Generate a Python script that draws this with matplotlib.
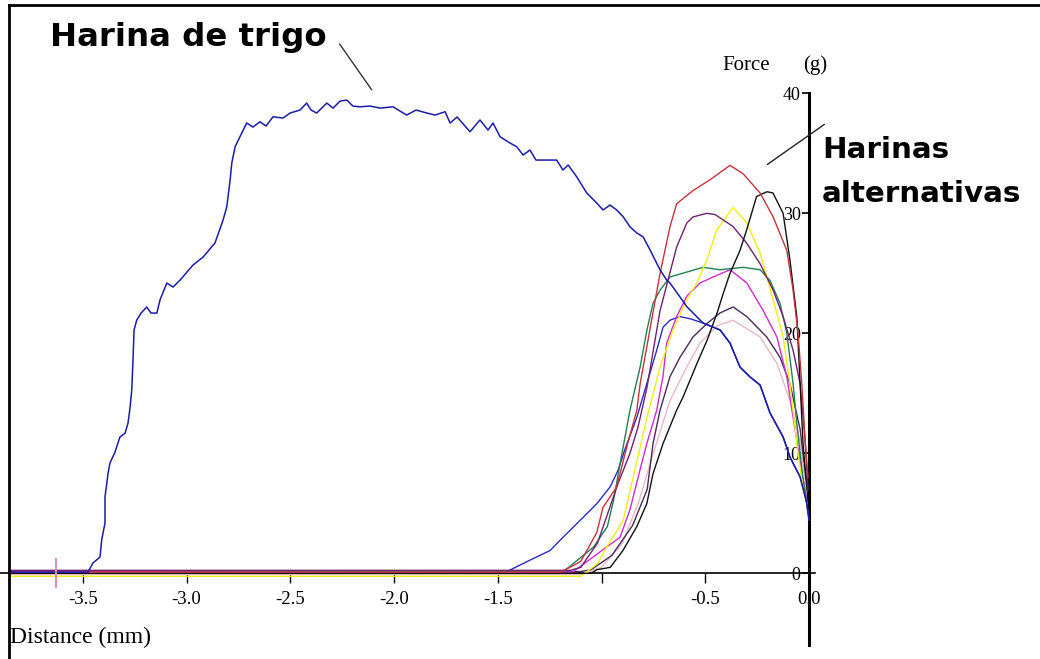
import matplotlib
matplotlib.use("Agg")
import matplotlib.pyplot as plt
from matplotlib.lines import Line2D

# penetration curves: distance (mm) vs force (g)
trigo_d = [-3.85, -3.475, -3.451, -3.417, -3.409, -3.393, -3.393, -3.378, -3.369, -3.345,
           -3.321, -3.296, -3.282, -3.272, -3.264, -3.258, -3.253, -3.240, -3.219, -3.192,
           -3.171, -3.143, -3.128, -3.095, -3.065, -3.031, -2.969, -2.920, -2.863, -2.824,
           -2.806, -2.790, -2.782, -2.766, -2.734, -2.710, -2.680, -2.646, -2.617, -2.583,
           -2.535, -2.501, -2.453, -2.421, -2.400, -2.373, -2.324, -2.294, -2.260, -2.228,
           -2.198, -2.164, -2.116, -2.067, -2.005, -1.971, -1.939, -1.894, -1.842, -1.802,
           -1.754, -1.730, -1.696, -1.634, -1.586, -1.547, -1.523, -1.489, -1.441, -1.409,
           -1.378, -1.345, -1.316, -1.282, -1.216, -1.186, -1.161, -1.120, -1.071, -1.023,
           -0.993, -0.959, -0.927, -0.896, -0.863, -0.830, -0.800, -0.766, -0.718, -0.686,
           -0.670, -0.622, -0.589, -0.511, -0.429, -0.381, -0.333, -0.284, -0.236, -0.188,
           -0.125, -0.092, -0.043, -0.011, 0.0]
trigo_f = [0.1, 0.1, 0.86, 1.36, 2.78, 4.19, 6.36, 8.36, 9.19, 10.1,
           11.36, 11.69, 12.53, 13.86, 15.28, 17.78, 20.28, 21.11, 21.69, 22.19,
           21.69, 21.69, 22.78, 24.19, 23.86, 24.44, 25.69, 26.36, 27.53, 29.44,
           30.55, 32.78, 34.19, 35.55, 36.69, 37.53, 37.19, 37.63, 37.28, 38.05,
           37.94, 38.36, 38.61, 39.19, 38.61, 38.36, 39.19, 38.77, 39.36, 39.44,
           38.94, 38.88, 38.94, 38.77, 38.88, 38.52, 38.19, 38.61, 38.36, 38.19,
           38.47, 37.53, 38.03, 36.8, 37.78, 36.94, 37.53, 36.38, 35.86, 35.55,
           34.86, 35.28, 34.44, 34.44, 34.44, 33.61, 34.03, 33.05, 31.69, 30.86,
           30.28, 30.69, 30.28, 29.72, 28.88, 28.36, 28.05, 26.94, 25.28, 24.44,
           24.19, 23.03, 22.22, 20.86, 20.28, 19.19, 17.19, 16.36, 15.69, 13.36,
           11.36, 9.69, 8.03, 5.86, 4.44]

rojo_d = [-3.85, -1.20, -1.152, -1.10, -1.023, -0.993, -0.927, -0.879, -0.830, -0.814,
          -0.718, -0.670, -0.638, -0.559, -0.477, -0.381, -0.318, -0.236, -0.173, -0.107,
          -0.077, -0.053, -0.035, -0.019, -0.005]
rojo_f = [0.1, 0.1, 0.5, 1.0, 3.4, 5.5, 7.2, 10.5, 13.6, 15.8,
          25.0, 28.9, 30.8, 31.9, 32.8, 34.0, 33.3, 31.7, 29.7, 26.9,
          23.6, 20.0, 15.8, 11.1, 8.0]

negro_d = [-3.85, -1.05, -1.023, -0.958, -0.897, -0.830, -0.782, -0.752, -0.704, -0.638,
           -0.607, -0.540, -0.492, -0.443, -0.414, -0.381, -0.333, -0.301, -0.253, -0.203,
           -0.174, -0.125, -0.092, -0.059, -0.043, -0.029, -0.005]
negro_f = [0.0, 0.0, 0.3, 0.5, 1.9, 3.9, 5.8, 8.3, 10.8, 13.6,
           14.7, 17.5, 19.4, 21.7, 23.3, 25.0, 26.9, 28.6, 31.4, 31.8,
           31.7, 30.0, 26.1, 21.4, 15.8, 10.8, 6.0]

morado_d = [-3.85, -1.15, -1.10, -1.02, -0.96, -0.92, -0.863, -0.824, -0.781, -0.718,
            -0.638, -0.589, -0.559, -0.493, -0.453, -0.366, -0.300, -0.236, -0.173, -0.125,
            -0.077, -0.043, -0.019, -0.005]
morado_f = [0.25, 0.25, 0.5, 2.5, 5.5, 7.5, 10.0, 12.2, 15.5, 21.9,
            27.2, 29.2, 29.7, 30.0, 29.9, 28.9, 27.5, 25.8, 23.6, 21.4,
            18.6, 15.8, 11.1, 7.0]

amarillo_d = [-3.85, -1.10, -1.02, -0.975, -0.896, -0.814, -0.781, -0.718, -0.655, -0.589,
              -0.541, -0.493, -0.445, -0.366, -0.300, -0.236, -0.173, -0.125, -0.092, -0.059,
              -0.029]
amarillo_f = [-0.25, -0.25, 0.8, 2.2, 4.4, 10.5, 13.0, 17.2, 20.3, 22.8,
              24.2, 26.1, 28.6, 30.5, 29.2, 26.7, 22.8, 19.7, 15.8, 10.8,
              7.0]

verde_d = [-3.85, -1.18, -1.038, -0.972, -0.942, -0.908, -0.863, -0.814, -0.781, -0.752,
           -0.718, -0.670, -0.511, -0.429, -0.318, -0.236, -0.188, -0.140, -0.107, -0.077,
           -0.059, -0.030, -0.005]
verde_f = [0.0, 0.2, 2.2, 3.9, 6.1, 9.4, 13.6, 17.2, 20.3, 22.5,
           23.6, 24.7, 25.5, 25.3, 25.5, 25.3, 24.4, 22.5, 20.0, 15.8,
           12.5, 8.0, 5.0]

magenta_d = [-3.85, -1.14, -1.108, -0.975, -0.911, -0.863, -0.815, -0.782, -0.734, -0.704,
             -0.686, -0.638, -0.589, -0.525, -0.462, -0.381, -0.300, -0.221, -0.155, -0.107,
             -0.077, -0.040, -0.010]
magenta_f = [0.1, 0.1, 0.5, 2.2, 3.0, 5.3, 8.6, 10.8, 13.6, 16.4,
             19.2, 21.4, 23.1, 24.2, 24.7, 25.3, 24.2, 21.9, 19.7, 16.4,
             13.0, 9.0, 6.0]

oscuro_d = [-3.85, -1.10, -1.05, -0.95, -0.85, -0.78, -0.752, -0.718, -0.670, -0.622,
            -0.559, -0.493, -0.429, -0.366, -0.300, -0.204, -0.140, -0.092, -0.043, -0.014]
oscuro_f = [0.15, 0.15, 0.3, 1.5, 4.0, 7.0, 10.8, 13.6, 16.4, 18.0,
            19.7, 20.8, 21.7, 22.2, 21.4, 19.7, 18.0, 15.8, 12.0, 7.8]

rosa_d = [-3.85, -1.10, -1.0, -0.9, -0.82, -0.76, -0.670, -0.589, -0.525, -0.445,
          -0.366, -0.236, -0.155, -0.092, -0.043, -0.014]
rosa_f = [-0.1, -0.1, 0.5, 2.5, 6.0, 9.5, 14.4, 17.2, 19.2, 20.6,
          21.1, 19.7, 17.5, 14.4, 11.0, 7.0]

# this one meets the wheat curve near -0.5 mm and runs down along it
azul_d = [-3.85, -1.45, -1.345, -1.248, -1.186, -1.104, -1.023, -0.959, -0.920, -0.888,
          -0.830, -0.782, -0.734, -0.704, -0.670, -0.622, -0.57, -0.511, -0.429, -0.381,
          -0.333, -0.284, -0.236, -0.188, -0.125, -0.092, -0.043, -0.011, 0.0]
azul_f = [0.2, 0.2, 1.1, 1.9, 3.0, 4.4, 5.8, 7.2, 8.6, 10.3,
          13.0, 15.8, 18.6, 20.5, 21.1, 21.4, 21.2, 20.86, 20.28, 19.19,
          17.19, 16.36, 15.69, 13.36, 11.36, 9.69, 8.03, 5.86, 4.44]

harinas = [
    (azul_d, azul_f, "#2a2ac8"),
    (rosa_d, rosa_f, "#e6b9c6"),
    (oscuro_d, oscuro_f, "#4a2a5a"),
    (magenta_d, magenta_f, "#d22ad2"),
    (verde_d, verde_f, "#228050"),
    (amarillo_d, amarillo_f, "#f2ee10"),
    (morado_d, morado_f, "#6e2272"),
    (negro_d, negro_f, "#111111"),
    (rojo_d, rojo_f, "#c8323c"),
]

x_ticks = [-3.5, -3.0, -2.5, -2.0, -1.5, -1.0, -0.5, 0.0]
x_labels = ["-3.5", "-3.0", "-2.5", "-2.0", "-1.5", "", "-0.5", "0.0"]
y_ticks = [0, 10, 20, 30, 40]
cursor_d = -3.63

fig = plt.figure(figsize=(10.4, 6.59), dpi=100)
ax = fig.add_axes([0, 0, 1, 1])
ax.set_xlim(-3.899, 1.113)
ax.set_ylim(-7.14, 47.78)

for d, f, c in harinas:
    ax.plot(d, f, color=c, lw=1.0, zorder=3)
ax.plot(trigo_d, trigo_f, color="#1c1caa", lw=1.1, zorder=4)
ax.plot([cursor_d], [0], marker="|", ms=22, mew=1.5, color="#e090b0", zorder=5)

# axes crossing at the origin, the way the texture analyser draws them
for side in ["top", "right"]:
    ax.spines[side].set_visible(False)
ax.spines["left"].set_position(("data", 0))
ax.spines["left"].set_bounds(-6, 40)
ax.spines["left"].set_linewidth(2.2)
ax.spines["bottom"].set_position(("data", 0))
ax.spines["bottom"].set_bounds(-3.9, 0.03)
ax.spines["bottom"].set_linewidth(1.2)

serif = "Liberation Serif"
ax.set_xticks(x_ticks)
ax.set_xticklabels(x_labels, family=serif, fontsize=13.5)
ax.set_yticks(y_ticks)
ax.set_yticklabels([str(v) for v in y_ticks], family=serif, fontsize=13)
ax.tick_params(axis="x", direction="out", length=7, width=1, pad=6)
ax.tick_params(axis="y", direction="out", length=5, width=1.2, pad=1)

ax.text(-0.419, 42.36, "Force", family=serif, fontsize=15, ha="left", va="center")
ax.text(-0.029, 42.36, "(g)", family=serif, fontsize=15, ha="left", va="center")
ax.text(-3.851, -5.31, "Distance (mm)", family=serif, fontsize=17, ha="left", va="center")

ax.text(-3.658, 44.69, "Harina de trigo", fontsize=23.3, fontweight="bold",
        ha="left", va="center")
ax.text(0.063, 35.25, "Harinas", fontsize=21.2, fontweight="bold", ha="left", va="center")
ax.text(0.063, 31.6, "alternativas", fontsize=21.2, fontweight="bold", ha="left", va="center")
ax.annotate("", xy=(-2.10, 40.1), xytext=(-2.27, 44.3),
            arrowprops=dict(arrowstyle="-", color="#333333", lw=1))
ax.annotate("", xy=(-0.212, 33.94), xytext=(0.085, 37.55),
            arrowprops=dict(arrowstyle="-", color="#222222", lw=1))

# frame lines on top and left
top = 1 - 5 / 659
fig.add_artist(Line2D([0.009, 1.0], [top, top], transform=fig.transFigure, color="black", lw=2))
fig.add_artist(Line2D([0.009, 0.009], [0, top], transform=fig.transFigure, color="black", lw=2))

fig.savefig("out.png", dpi=100)
